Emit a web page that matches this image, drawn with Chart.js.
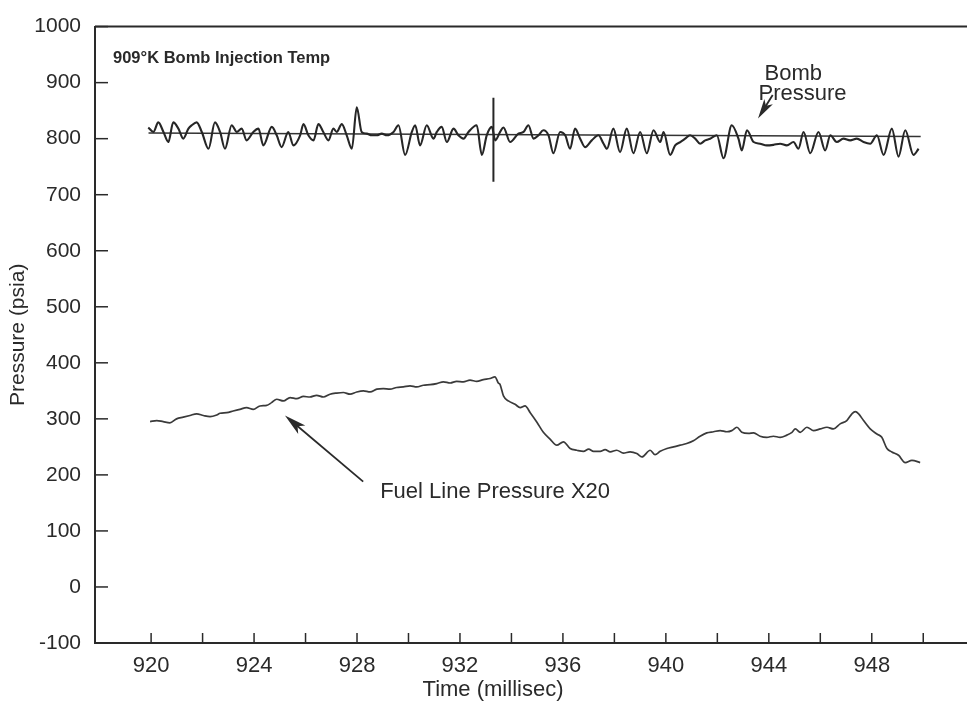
<!DOCTYPE html>
<html>
<head>
<meta charset="utf-8">
<script src="https://cdn.jsdelivr.net/npm/chart.js@4/dist/chart.umd.min.js"></script>
<style>
	html, body { margin: 0; padding: 0; background: #fff; }
	#wrap { width: 967px; height: 709px; }
</style>
</head>
<body>
<div id="wrap"><canvas id="pressureChart" width="967" height="709"></canvas></div>
<script>
//#region data

//bomb pressure trace, time in ms / pressure in psia
const bombTime = [
	919.89, 920.09, 920.28, 920.48, 920.67, 920.86, 921.06, 921.25, 921.45, 921.58, 921.77, 921.97,
	922.23, 922.48, 922.68, 922.87, 923.13, 923.33, 923.52, 923.71, 923.97, 924.17, 924.36, 924.69,
	924.88, 925.07, 925.33, 925.53, 925.79, 925.92, 926.11, 926.31, 926.50, 926.69, 926.89, 927.08,
	927.21, 927.41, 927.60, 927.80, 927.99, 928.18, 928.38, 928.57, 928.77, 928.96, 929.16, 929.42,
	929.61, 929.87, 930.13, 930.26, 930.45, 930.71, 930.97, 931.10, 931.29, 931.49, 931.75, 931.94,
	932.14, 932.33, 932.65, 932.85, 933.04, 933.24, 933.37, 933.56, 933.69, 933.95, 934.27, 934.47,
	934.66, 934.86, 935.05, 935.24, 935.44, 935.63, 935.89, 936.09, 936.28, 936.47, 936.67, 936.86,
	937.12, 937.38, 937.58, 937.71, 937.96, 938.22, 938.48, 938.74, 939.00, 939.26, 939.52, 939.78,
	939.91, 940.17, 940.36, 940.56, 940.75, 940.94, 941.14, 941.33, 941.53, 941.72, 941.98, 942.24,
	942.56, 942.82, 942.95, 943.15, 943.41, 943.66, 943.92, 944.18, 944.44, 944.70, 944.96, 945.15,
	945.35, 945.61, 945.93, 946.19, 946.39, 946.64, 946.90, 947.16, 947.42, 947.68, 947.94, 948.20,
	948.46, 948.78, 949.04, 949.30, 949.62, 949.82
];
const bombPressure = [
	820, 812, 829, 812, 794, 829, 818, 800, 818, 824, 829, 812,
	782, 829, 812, 782, 824, 812, 818, 797, 812, 818, 788, 821,
	806, 785, 812, 788, 806, 826, 806, 797, 826, 812, 797, 818,
	812, 826, 806, 782, 856, 812, 809, 806, 806, 809, 806, 812,
	824, 771, 812, 824, 788, 824, 800, 812, 821, 794, 818, 806,
	800, 812, 824, 771, 806, 821, 797, 812, 820, 794, 809, 812,
	824, 800, 806, 815, 806, 774, 812, 806, 782, 818, 800, 785,
	797, 806, 791, 782, 818, 776, 818, 774, 812, 774, 815, 794,
	812, 771, 788, 794, 800, 806, 800, 791, 797, 800, 806, 765,
	824, 800, 779, 815, 794, 791, 788, 789, 791, 788, 794, 782,
	812, 774, 812, 779, 806, 794, 800, 797, 800, 794, 791, 806,
	771, 818, 768, 815, 771, 782
];

//straight reference line drawn through the bomb trace
const meanTime = [919.9, 949.9];
const meanPressure = [810, 804];

//the single vertical spike in the bomb trace
const spikeTime = [933.3, 933.3];
const spikePressure = [873, 723];

//fuel line pressure (x20)
const fuelTime = [
	919.96, 920.22, 920.47, 920.73, 920.99, 921.25, 921.51, 921.77, 922.03, 922.29, 922.55, 922.68,
	922.94, 923.19, 923.45, 923.71, 923.97, 924.23, 924.49, 924.68, 924.88, 925.14, 925.40, 925.66,
	925.92, 926.17, 926.43, 926.69, 926.95, 927.21, 927.47, 927.73, 927.99, 928.25, 928.51, 928.77,
	929.02, 929.28, 929.54, 929.80, 930.06, 930.32, 930.58, 930.84, 931.10, 931.36, 931.62, 931.87,
	932.13, 932.39, 932.65, 932.91, 933.17, 933.36, 933.49, 933.56, 933.69, 933.88, 934.14, 934.34,
	934.53, 934.73, 934.99, 935.24, 935.50, 935.76, 936.02, 936.28, 936.54, 936.80, 937.00, 937.19,
	937.45, 937.64, 937.84, 938.09, 938.35, 938.61, 938.87, 939.07, 939.39, 939.58, 939.78, 940.04,
	940.30, 940.56, 940.81, 941.07, 941.33, 941.59, 941.85, 942.11, 942.37, 942.56, 942.76, 942.95,
	943.21, 943.41, 943.66, 943.92, 944.18, 944.44, 944.70, 944.90, 945.03, 945.22, 945.48, 945.74,
	946.00, 946.26, 946.51, 946.77, 947.03, 947.23, 947.36, 947.49, 947.68, 947.94, 948.20, 948.39,
	948.59, 948.78, 949.04, 949.30, 949.56, 949.88
];
const fuelPressure = [
	295, 297, 295, 293, 300, 303, 306, 309, 306, 304, 307, 310,
	311, 314, 317, 320, 317, 323, 324, 329, 335, 332, 338, 336,
	340, 339, 342, 339, 344, 346, 347, 344, 348, 350, 348, 353,
	354, 353, 356, 357, 359, 357, 360, 361, 363, 366, 364, 367,
	366, 369, 367, 370, 372, 375, 364, 361, 341, 332, 326, 320,
	323, 311, 294, 276, 264, 253, 259, 247, 244, 242, 246, 242,
	242, 245, 241, 244, 239, 241, 238, 232, 244, 236, 242, 247,
	250, 253, 256, 261, 269, 275, 277, 279, 277, 279, 285, 276,
	274, 275, 269, 267, 269, 267, 271, 276, 282, 276, 285, 279,
	282, 285, 282, 291, 297, 309, 313, 309, 297, 282, 273, 267,
	247, 241, 235, 222, 226, 222
];

//axis ticks
const xLabelTicks = [920, 924, 928, 932, 936, 940, 944, 948];
const xMinorTicks = [920, 922, 924, 926, 928, 930, 932, 934, 936, 938, 940, 942, 944, 946, 948, 950];
const yTicks = [-100, 0, 100, 200, 300, 400, 500, 600, 700, 800, 900, 1000];

//text notes, placed in data units
const topNote = { x: 918.52, y: 943, text: '909°K Bomb Injection Temp' };
const bombNote = { x: 943.6, y: 915, lines: ['Bomb', 'Pressure'] };
const bombArrow = { fromX: 944.15, fromY: 878, toX: 943.58, toY: 836 };
const fuelNote = { x: 928.9, y: 170, text: 'Fuel Line Pressure X20' };
const fuelArrow = { fromX: 928.24, fromY: 188, toX: 925.2, toY: 306 };

//#endregion

const font = '"Liberation Sans", Arial, Helvetica, sans-serif';
const ink = '#2a2a2a';

const toPoints = (xs, ys) => xs.map((x, i) => ({ x: x, y: ys[i] }));

function drawArrow(ctx, x1, y1, x2, y2, headLen, headWidth) {
	const ang = Math.atan2(y2 - y1, x2 - x1);
	ctx.beginPath();
	ctx.moveTo(x1, y1);
	ctx.lineTo(x2 - Math.cos(ang) * headLen * 0.6, y2 - Math.sin(ang) * headLen * 0.6);
	ctx.stroke();
	//arrow head with a little notch at the back
	const bx = x2 - Math.cos(ang) * headLen;
	const by = y2 - Math.sin(ang) * headLen;
	const nx = -Math.sin(ang) * headWidth / 2;
	const ny = Math.cos(ang) * headWidth / 2;
	const kx = x2 - Math.cos(ang) * headLen * 0.75;
	const ky = y2 - Math.sin(ang) * headLen * 0.75;
	ctx.beginPath();
	ctx.moveTo(x2, y2);
	ctx.lineTo(bx + nx, by + ny);
	ctx.lineTo(kx, ky);
	ctx.lineTo(bx - nx, by - ny);
	ctx.closePath();
	ctx.fill();
}

//draws the inward ticks, top frame line, notes and the x title
const paperAxes = {
	id: 'paperAxes',
	afterDraw(chart) {
		const ctx = chart.ctx;
		const area = chart.chartArea;
		const xs = chart.scales.x;
		const ys = chart.scales.y;
		ctx.save();
		ctx.strokeStyle = ink;
		ctx.fillStyle = ink;
		ctx.lineWidth = 2;

		//top frame
		ctx.beginPath();
		ctx.moveTo(area.left, area.top);
		ctx.lineTo(area.right, area.top);
		ctx.stroke();

		//y ticks point into the plot
		ctx.lineWidth = 1.5;
		yTicks.forEach((v) => {
			const py = ys.getPixelForValue(v);
			ctx.beginPath();
			ctx.moveTo(area.left, py);
			ctx.lineTo(area.left + 13, py);
			ctx.stroke();
		});
		xMinorTicks.forEach((v) => {
			const px = xs.getPixelForValue(v);
			ctx.beginPath();
			ctx.moveTo(px, area.bottom);
			ctx.lineTo(px, area.bottom - 10);
			ctx.stroke();
		});

		//notes
		ctx.textBaseline = 'middle';
		ctx.textAlign = 'left';
		ctx.font = 'bold 16.5px ' + font;
		ctx.fillText(topNote.text, xs.getPixelForValue(topNote.x), ys.getPixelForValue(topNote.y));

		ctx.font = '22px ' + font;
		const bx = xs.getPixelForValue(bombNote.x);
		const by = ys.getPixelForValue(bombNote.y);
		ctx.fillText(bombNote.lines[0], bx + 6, by);
		ctx.fillText(bombNote.lines[1], bx, by + 20);
		ctx.fillText(fuelNote.text, xs.getPixelForValue(fuelNote.x), ys.getPixelForValue(fuelNote.y));

		ctx.lineWidth = 1.8;
		drawArrow(ctx, xs.getPixelForValue(bombArrow.fromX), ys.getPixelForValue(bombArrow.fromY),
			xs.getPixelForValue(bombArrow.toX), ys.getPixelForValue(bombArrow.toY), 20, 10);
		drawArrow(ctx, xs.getPixelForValue(fuelArrow.fromX), ys.getPixelForValue(fuelArrow.fromY),
			xs.getPixelForValue(fuelArrow.toX), ys.getPixelForValue(fuelArrow.toY), 22, 11);

		//x title sits left of the middle in the scan
		ctx.textAlign = 'center';
		ctx.font = '22px ' + font;
		ctx.fillText('Time (millisec)', 493, 690);
		ctx.restore();
	}
};

const lineStyle = (color, width, smooth) => ({
	borderColor: color,
	borderWidth: width,
	pointRadius: 0,
	tension: smooth ? 0.4 : 0,
	cubicInterpolationMode: smooth ? 'monotone' : 'default',
	fill: false,
});

const chart = new Chart(document.getElementById('pressureChart'), {
	type: 'line',
	data: {
		datasets: [
			Object.assign({ label: 'Bomb Pressure', data: toPoints(bombTime, bombPressure) }, lineStyle('#262626', 2.1, true)),
			Object.assign({ label: 'Mean', data: toPoints(meanTime, meanPressure) }, lineStyle('#333', 1.6, false)),
			Object.assign({ label: 'Spike', data: toPoints(spikeTime, spikePressure) }, lineStyle('#262626', 2, false)),
			Object.assign({ label: 'Fuel Line Pressure X20', data: toPoints(fuelTime, fuelPressure) }, lineStyle('#3a3a3a', 1.7, true)),
		]
	},
	options: {
		responsive: false,
		devicePixelRatio: 1,
		animation: false,
		layout: { padding: { top: 20, right: 0, left: 0, bottom: 0 } },
		plugins: {
			legend: { display: false },
			tooltip: { enabled: false },
		},
		scales: {
			x: {
				type: 'linear',
				min: 917.82,
				max: 951.7,
				grid: { display: false, drawTicks: false },
				border: { display: true, color: ink, width: 2 },
				afterBuildTicks: (scale) => {
					scale.ticks = xLabelTicks.map((v) => ({ value: v }));
				},
				afterFit: (scale) => { scale.height = 66; },
				ticks: {
					padding: 10,
					color: ink,
					font: { family: font, size: 22 },
					maxRotation: 0,
					callback: (v) => String(v),
				},
			},
			y: {
				type: 'linear',
				min: -100,
				max: 1000,
				grid: { display: false, drawTicks: false },
				border: { display: true, color: ink, width: 2 },
				afterBuildTicks: (scale) => {
					scale.ticks = yTicks.map((v) => ({ value: v }));
				},
				afterFit: (scale) => { scale.width = 95; },
				title: {
					display: true,
					text: 'Pressure (psia)',
					color: ink,
					font: { family: font, size: 21 },
					padding: { top: 6, bottom: 0 },
				},
				ticks: {
					padding: 14,
					color: ink,
					font: { family: font, size: 21 },
					callback: (v) => String(v),
				},
			},
		},
	},
	plugins: [paperAxes],
});
</script>
</body>
</html>
